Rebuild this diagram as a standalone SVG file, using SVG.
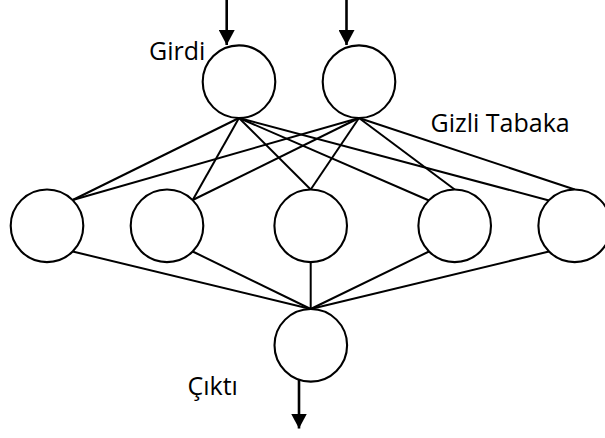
<svg xmlns="http://www.w3.org/2000/svg" width="605" height="438" viewBox="0 0 605 438">
<style>
.node{fill:#fff;stroke:#000;stroke-width:2.1}
.edge{stroke:#000;stroke-width:2;fill:none}
.arrow{stroke:#000;stroke-width:2.6;fill:none;marker-end:url(#ah)}
.lbl{font-family:"Open Sans","Noto Sans","DejaVu Sans",sans-serif;font-size:25px;fill:#000}
</style>
<defs>
<marker id="ah" viewBox="0 0 15 16" refX="15" refY="8" markerWidth="15" markerHeight="16" markerUnits="userSpaceOnUse" orient="auto">
<path d="M0,0 L15,8 L0,16 z" fill="#000"/>
</marker>
</defs>
<rect width="605" height="438" fill="#fff"/>
<g id="connectors">
<line class="edge" x1="239" y1="118" x2="72.7" y2="200"/>
<line class="edge" x1="239" y1="118" x2="192.7" y2="200"/>
<line class="edge" x1="239" y1="118" x2="310.7" y2="189.5"/>
<line class="edge" x1="239" y1="118" x2="429" y2="200.5"/>
<line class="edge" x1="239" y1="118" x2="549" y2="200.5"/>
<line class="edge" x1="359" y1="118" x2="72.7" y2="200"/>
<line class="edge" x1="359" y1="118" x2="192.7" y2="200"/>
<line class="edge" x1="359" y1="118" x2="310.7" y2="189.5"/>
<line class="edge" x1="359" y1="118" x2="454.7" y2="189.5"/>
<line class="edge" x1="359" y1="118" x2="574.7" y2="189.5"/>
<line class="edge" x1="72.7" y1="251.5" x2="310.7" y2="309"/>
<line class="edge" x1="192.7" y1="251.5" x2="310.7" y2="309"/>
<line class="edge" x1="310.7" y1="262" x2="310.7" y2="309"/>
<line class="edge" x1="429" y1="251.5" x2="310.7" y2="309"/>
<line class="edge" x1="549" y1="251.5" x2="310.7" y2="309"/>
<line class="arrow" x1="226.7" y1="0" x2="226.7" y2="45"/>
<line class="arrow" x1="346.5" y1="0" x2="346.5" y2="45"/>
<line class="arrow" x1="299" y1="380" x2="299" y2="428.5"/>
</g>
<g id="input1"><circle class="node" cx="239" cy="81.7" r="36.3"/></g>
<g id="input2"><circle class="node" cx="359" cy="81.7" r="36.3"/></g>
<g id="hidden1"><circle class="node" cx="47" cy="225.8" r="36.3"/></g>
<g id="hidden2"><circle class="node" cx="167" cy="225.8" r="36.3"/></g>
<g id="hidden3"><circle class="node" cx="310.7" cy="225.8" r="36.3"/></g>
<g id="hidden4"><circle class="node" cx="454.7" cy="225.8" r="36.3"/></g>
<g id="hidden5"><circle class="node" cx="574.7" cy="225.8" r="36.3"/></g>
<g id="output"><circle class="node" cx="310.8" cy="345.3" r="36.3"/></g>
<g id="labels">
<text class="lbl" x="149" y="59.5">Girdi</text>
<text class="lbl" x="430.5" y="131.7">Gizli Tabaka</text>
<text class="lbl" x="187.5" y="395">Çıktı</text>
</g>
</svg>
